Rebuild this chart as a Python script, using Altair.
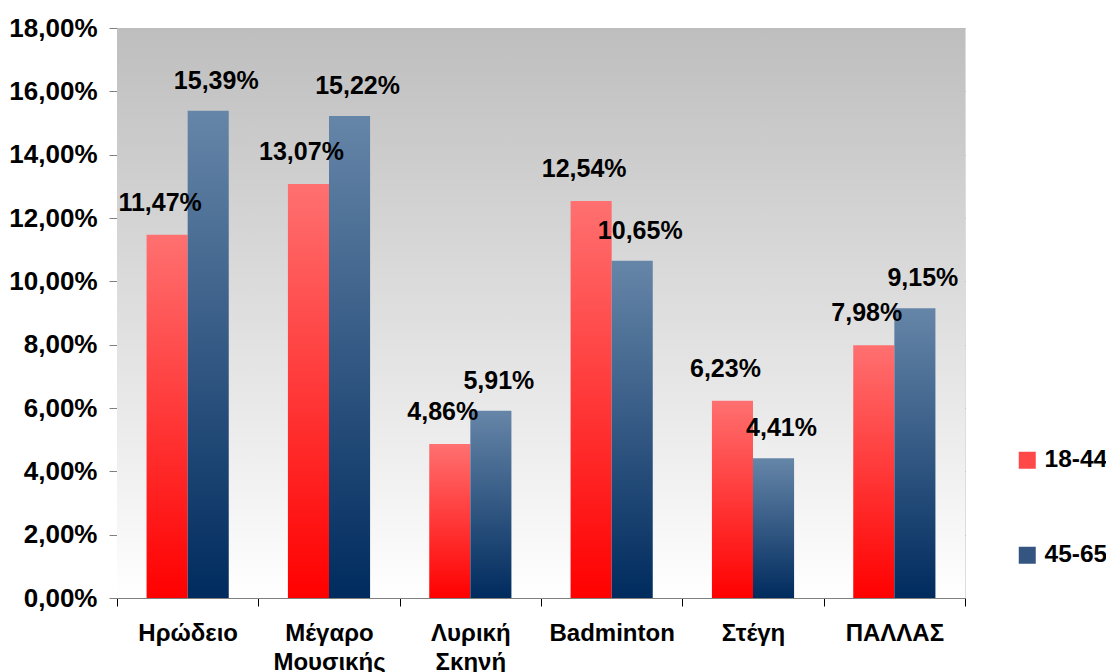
import altair as alt
import pandas as pd

categories = ["Ηρώδειο", "Μέγαρο Μουσικής", "Λυρική Σκηνή", "Badminton", "Στέγη", "ΠΑΛΛΑΣ"]
series = ["18-44", "45-65"]
values_18_44 = [11.47, 13.07, 4.86, 12.54, 6.23, 7.98]
values_45_65 = [15.39, 15.22, 5.91, 10.65, 4.41, 9.15]
y_ticks = [0, 0.02, 0.04, 0.06, 0.08, 0.10, 0.12, 0.14, 0.16, 0.18]

rows = []
for c, a, b in zip(categories, values_18_44, values_45_65):
    rows.append({"cat": c, "series": series[0], "value": a / 100})
    rows.append({"cat": c, "series": series[1], "value": b / 100})
df = pd.DataFrame(rows)

FONT = "Liberation Sans"
W, H = 848, 570

xscale = alt.Scale(domain=categories, paddingInner=0, paddingOuter=0)
xoff = alt.XOffset("series:N", scale=alt.Scale(domain=series, paddingInner=0, paddingOuter=0.72))
yscale = alt.Scale(domain=[0, 0.18])

red_grad = alt.Gradient(gradient="linear", x1=0, x2=0, y1=0, y2=1,
                        stops=[alt.GradientStop(offset=0, color="#FF7070"),
                               alt.GradientStop(offset=1, color="#FF0000")])
blue_grad = alt.Gradient(gradient="linear", x1=0, x2=0, y1=0, y2=1,
                         stops=[alt.GradientStop(offset=0, color="#6686A8"),
                                alt.GradientStop(offset=1, color="#002B5E")])
bg_grad = alt.Gradient(gradient="linear", x1=0, x2=0, y1=0, y2=1,
                       stops=[alt.GradientStop(offset=0, color="#BEBEBE"),
                              alt.GradientStop(offset=0.93, color="#FAFAFA"),
                              alt.GradientStop(offset=1, color="#FFFFFF")])

background = alt.Chart(alt.Data(values=[{}])).mark_rect(color=bg_grad).encode(
    x=alt.value(0), x2=alt.value(W), y=alt.value(0), y2=alt.value(H)
)

base = alt.Chart(df)

x_enc = alt.X("cat:N", scale=xscale, sort=categories,
              axis=alt.Axis(title=None, labelExpr="split(datum.label, ' ')",
                            labelAngle=0, labelFont=FONT, labelFontSize=24,
                            labelFontWeight="bold", labelColor="black",
                            labelLineHeight=29, labelPadding=15, labelBaseline="top",
                            tickBand="extent", tickSize=8, tickColor="#000000",
                            domainColor="#808080", grid=False))
y_enc = alt.Y("value:Q", scale=yscale,
              axis=alt.Axis(title=None, values=y_ticks,
                            labelExpr="replace(format(datum.value, '.2%'), '.', ',')",
                            labelFont=FONT, labelFontSize=26, labelFontWeight="bold",
                            labelColor="black", labelPadding=12, tickSize=8,
                            tickColor="#808080", domainColor="#808080",
                            gridColor="#AAAAAA", gridWidth=1))

red_bars = base.transform_filter(alt.datum.series == series[0]).mark_bar(color=red_grad).encode(
    x=x_enc, xOffset=xoff, y=y_enc)
blue_bars = base.transform_filter(alt.datum.series == series[1]).mark_bar(color=blue_grad).encode(
    x=x_enc, xOffset=xoff, y=y_enc)

lab = base.transform_calculate(label="replace(format(datum.value, '.2%'), '.', ',')")
red_text = lab.transform_filter(alt.datum.series == series[0]).mark_text(
    font=FONT, fontSize=25, fontWeight="bold", color="black", dy=-24, dx=-7, baseline="alphabetic"
).encode(x=x_enc, xOffset=xoff, y=y_enc, text="label:N")
blue_text = lab.transform_filter(alt.datum.series == series[1]).mark_text(
    font=FONT, fontSize=25, fontWeight="bold", color="black", dy=-22, dx=8, baseline="alphabetic"
).encode(x=x_enc, xOffset=xoff, y=y_enc, text="label:N")

legend_layer = base.mark_square(opacity=0, size=1).encode(
    x=x_enc, xOffset=xoff, y=y_enc,
    color=alt.Color("series:N", scale=alt.Scale(domain=series, range=["#FF4848", "#34557F"]),
                    legend=alt.Legend(title=None, orient="none", legendX=898, legendY=420,
                                      symbolType="square", symbolSize=289, symbolOpacity=1,
                                      symbolStrokeWidth=0, labelFont=FONT, labelFontSize=24.5,
                                      labelFontWeight="bold", labelColor="black",
                                      labelOffset=5, rowPadding=70, padding=0))
)

chart = alt.layer(background, red_bars, blue_bars, red_text, blue_text, legend_layer).properties(
    width=W, height=H,
    autosize=alt.AutoSizeParams(type="none"),
    padding={"left": 109, "top": 20, "right": 141, "bottom": 74},
).configure_view(stroke=None).configure(background="white")

chart.save("out.html", embed_options={"renderer": "svg", "actions": False})
